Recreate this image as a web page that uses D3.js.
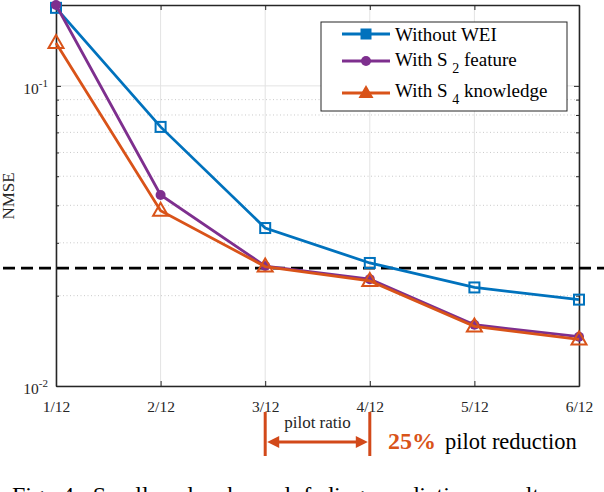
<!DOCTYPE html>
<html>
<head>
<meta charset="utf-8">
<script src="https://cdn.jsdelivr.net/npm/d3@7"></script>
<style>
body { margin: 0; background: #fff; overflow: hidden; }
svg { display: block; }
text { font-family: "Liberation Serif", "Times New Roman", serif; }
</style>
</head>
<body>
<svg id="vis"></svg>
<script>
// values
const ratios = ['1/12', '2/12', '3/12', '4/12', '5/12', '6/12'];
const withoutWEI = [0.182, 0.073, 0.0336, 0.0257, 0.0213, 0.0194];
const withS2 = [0.186, 0.0433, 0.0251, 0.0227, 0.0160, 0.0146];
const withS4 = [0.139, 0.0384, 0.0250, 0.0224, 0.0158, 0.0143];
const threshold = 0.0247;
const majorTicks = [0.01, 0.1];
const minorTicks = [0.02, 0.03, 0.04, 0.05, 0.06, 0.07, 0.08, 0.09];
const exponents = ['-2', '-1'];

const BLUE = '#0072BD';
const PURPLE = '#7E2F8E';
const ORANGE = '#D95319';
const ANNOT = '#d2491a';
const AXIS = '#262626';
const SERIF = '"Liberation Serif", "Times New Roman", serif';

var width = 604, height = 492;
var plot = { left: 56, right: 579, top: 5, bottom: 386 };

var svg = d3.select('#vis').attr('width', width).attr('height', height);

var x = d3.scalePoint().domain(ratios).range([plot.left, plot.right]);
var y = d3.scaleLog().domain([0.01, 0.186]).range([plot.bottom, plot.top]);

// grid
var grid = svg.append('g');
grid.selectAll('.xg').data(ratios).enter().append('line')
    .attr('x1', d => x(d)).attr('x2', d => x(d)).attr('y1', plot.top).attr('y2', plot.bottom)
    .attr('stroke', '#e3e3e3').attr('stroke-width', 1);
grid.selectAll('.ym').data(minorTicks).enter().append('line')
    .attr('x1', plot.left).attr('x2', plot.right).attr('y1', d => y(d)).attr('y2', d => y(d))
    .attr('stroke', '#bdbdbd').attr('stroke-width', 0.8).attr('stroke-dasharray', '1,2.5');
grid.selectAll('.yg').data(majorTicks).enter().append('line')
    .attr('x1', plot.left).attr('x2', plot.right).attr('y1', d => y(d)).attr('y2', d => y(d))
    .attr('stroke', '#e3e3e3').attr('stroke-width', 1);

// axes (ticks pointing inward, box on)
var xAxis = svg.append('g').attr('transform', 'translate(0,' + plot.bottom + ')')
    .call(d3.axisBottom(x).tickSizeInner(-5).tickSizeOuter(0).tickPadding(15));
var xTop = svg.append('g').attr('transform', 'translate(0,' + plot.top + ')')
    .call(d3.axisTop(x).tickSizeInner(-5).tickSizeOuter(0).tickFormat(''));
var yAxis = svg.append('g').attr('transform', 'translate(' + plot.left + ',0)')
    .call(d3.axisLeft(y).tickValues(majorTicks).tickSizeInner(-5).tickSizeOuter(0).tickFormat(''));
var yRight = svg.append('g').attr('transform', 'translate(' + plot.right + ',0)')
    .call(d3.axisRight(y).tickValues(majorTicks).tickSizeInner(-5).tickSizeOuter(0).tickFormat(''));
var yMinorL = svg.append('g').attr('transform', 'translate(' + plot.left + ',0)')
    .call(d3.axisLeft(y).tickValues(minorTicks).tickSizeInner(-3).tickSizeOuter(0).tickFormat(''));
var yMinorR = svg.append('g').attr('transform', 'translate(' + plot.right + ',0)')
    .call(d3.axisRight(y).tickValues(minorTicks).tickSizeInner(-3).tickSizeOuter(0).tickFormat(''));

[xAxis, xTop, yAxis, yRight, yMinorL, yMinorR].forEach(function(g) {
    g.selectAll('.domain').attr('stroke', AXIS).attr('stroke-width', 1.3);
    g.selectAll('.tick line').attr('stroke', AXIS).attr('stroke-width', 1);
});
xAxis.selectAll('.tick text').attr('font-size', 15.5).attr('fill', AXIS)
    .attr('font-family', SERIF);

// y tick labels with exponents
var yl = svg.append('g');
majorTicks.forEach(function(v, i) {
    var t = yl.append('text').attr('x', 48).attr('y', y(v) + 8)
        .attr('text-anchor', 'end').attr('font-size', 15.5).attr('font-family', SERIF).attr('fill', AXIS);
    t.append('tspan').text('10');
    t.append('tspan').attr('dy', -7).attr('font-size', 11).text(exponents[i]);
});

svg.append('text')
    .attr('transform', 'translate(14,196) rotate(-90)')
    .attr('text-anchor', 'middle').attr('font-size', 17).attr('font-family', SERIF).attr('fill', AXIS)
    .text('NMSE');

// threshold dashed line
svg.append('line')
    .attr('x1', 3).attr('x2', 604).attr('y1', y(threshold)).attr('y2', y(threshold))
    .attr('stroke', '#000').attr('stroke-width', 2.6).attr('stroke-dasharray', '12,6');

// series
var line = d3.line().x((d, i) => x(ratios[i])).y(d => y(d));
var series = [
    { values: withoutWEI, color: BLUE, marker: 'square' },
    { values: withS2, color: PURPLE, marker: 'circle' },
    { values: withS4, color: ORANGE, marker: 'triangle' }
];

function drawMarker(g, kind, cx, cy, color) {
    if (kind == 'square') {
        g.append('rect').attr('x', cx - 5).attr('y', cy - 5).attr('width', 10).attr('height', 10)
            .attr('fill', 'none').attr('stroke', color).attr('stroke-width', 2);
    } else if (kind == 'circle') {
        g.append('circle').attr('cx', cx).attr('cy', cy).attr('r', 5).attr('fill', color);
    } else {
        g.append('path')
            .attr('d', 'M' + cx + ',' + (cy - 8) + 'L' + (cx + 7.5) + ',' + (cy + 5) + 'L' + (cx - 7.5) + ',' + (cy + 5) + 'Z')
            .attr('fill', 'none').attr('stroke', color).attr('stroke-width', 2).attr('stroke-linejoin', 'miter');
    }
}

series.forEach(function(s) {
    var g = svg.append('g');
    g.append('path').datum(s.values).attr('d', line)
        .attr('fill', 'none').attr('stroke', s.color).attr('stroke-width', 2.8);
    s.values.forEach(function(v, i) {
        drawMarker(g, s.marker, x(ratios[i]), y(v), s.color);
    });
});

// legend
var lg = svg.append('g');
lg.append('rect').attr('x', 321).attr('y', 22).attr('width', 246).attr('height', 89)
    .attr('fill', '#fff').attr('stroke', AXIS).attr('stroke-width', 1);
var rowsY = [34, 61, 93];
series.forEach(function(s, i) {
    lg.append('line').attr('x1', 342).attr('x2', 390).attr('y1', rowsY[i]).attr('y2', rowsY[i])
        .attr('stroke', s.color).attr('stroke-width', 2.8);
    if (s.marker == 'triangle') {
        lg.append('path')
            .attr('d', 'M366,' + (rowsY[i] - 8) + 'L373.5,' + (rowsY[i] + 5) + 'L358.5,' + (rowsY[i] + 5) + 'Z')
            .attr('fill', s.color);
    } else if (s.marker == 'square') {
        lg.append('rect').attr('x', 361).attr('y', rowsY[i] - 5).attr('width', 10).attr('height', 10)
            .attr('fill', s.color).attr('stroke', s.color);
    } else {
        drawMarker(lg, s.marker, 366, rowsY[i], s.color);
    }
});
function legendText(yPos) {
    return lg.append('text').attr('x', 395).attr('y', yPos).attr('font-size', 19)
        .attr('font-family', SERIF).attr('fill', '#000');
}
legendText(41).text('Without WEI');
var t2 = legendText(66);
t2.append('tspan').text('With S ');
t2.append('tspan').attr('dy', 7).attr('font-size', 14).text('2');
t2.append('tspan').attr('dy', -7).text(' feature');
var t3 = legendText(97);
t3.append('tspan').text('With S ');
t3.append('tspan').attr('dy', 7).attr('font-size', 14).text('4');
t3.append('tspan').attr('dy', -7).text(' knowledge');

// pilot ratio annotation
var an = svg.append('g');
var xa = x('3/12'), xb = x('4/12');
an.append('line').attr('x1', xa).attr('x2', xa).attr('y1', 412).attr('y2', 456)
    .attr('stroke', ANNOT).attr('stroke-width', 3);
an.append('line').attr('x1', xb).attr('x2', xb).attr('y1', 412).attr('y2', 456)
    .attr('stroke', ANNOT).attr('stroke-width', 3);
an.append('line').attr('x1', xa + 10).attr('x2', xb - 10).attr('y1', 442).attr('y2', 442)
    .attr('stroke', ANNOT).attr('stroke-width', 3.2);
an.append('path').attr('d', 'M' + (xa + 2) + ',442L' + (xa + 14) + ',436L' + (xa + 14) + ',448Z').attr('fill', ANNOT);
an.append('path').attr('d', 'M' + (xb - 2) + ',442L' + (xb - 14) + ',436L' + (xb - 14) + ',448Z').attr('fill', ANNOT);
an.append('text').attr('x', (xa + xb) / 2).attr('y', 428).attr('text-anchor', 'middle')
    .attr('font-size', 17).attr('font-family', SERIF).attr('fill', AXIS).text('pilot ratio');
an.append('text').attr('x', 388).attr('y', 449).attr('font-size', 24).attr('font-weight', 'bold')
    .attr('font-family', SERIF).attr('fill', ORANGE).text('25%');
an.append('text').attr('x', 445).attr('y', 449).attr('font-size', 22.5)
    .attr('font-family', SERIF).attr('fill', '#000').text('pilot reduction');

// figure caption (cut off at the bottom)
svg.append('text').attr('x', 12).attr('y', 503).attr('font-size', 24).attr('font-family', SERIF)
    .attr('word-spacing', 6).attr('fill', '#000')
    .text('Fig. 4: Small-scale channel fading prediction results');
</script>
</body>
</html>
